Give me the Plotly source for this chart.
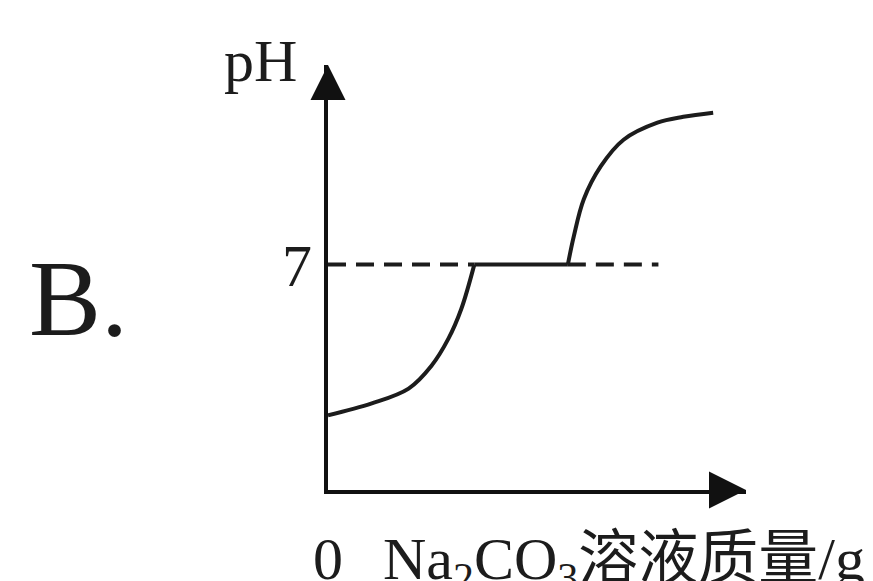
import plotly.graph_objects as go

# pH curve (x in arbitrary mass units, y in pH)
acid_x = [0.0, 4.4, 8.1, 10.4, 12.1, 13.4, 14.7]
acid_ph = [2.32, 2.69, 3.15, 3.86, 4.70, 5.63, 7.0]

flat_x = [14.7, 24.1]
flat_ph = [7.0, 7.0]

base_x = [24.1, 24.7, 25.7, 27.4, 29.7, 33.1, 35.7, 38.7]
base_ph = [7.0, 7.88, 9.03, 10.05, 10.88, 11.41, 11.59, 11.72]

# dashed pH = 7 reference pieces
ref_left_x = [0.0, 14.7]
ref_right_x = [24.1, 33.2]
NEUTRAL = 7.0

X_MAX = 42.0
Y_MAX = 13.2

W, H = 873, 581
PAGE = 8  # default body margin of the html page
# plot box in screen pixels: x 328..746, y 65..490
BOX = (328, 746, 65, 490)
M_L, M_T = BOX[0] - PAGE, BOX[2] - PAGE
M_R, M_B = W - (BOX[1] - PAGE), H - (BOX[3] - PAGE)

SERIF = "Liberation Serif, Times New Roman, Noto Sans CJK SC, serif"
INK = "#1c1c1c"


def px(xp):
    # screen pixel column -> paper fraction
    return (xp - PAGE - M_L) / (W - M_L - M_R)


def py(yp):
    # screen pixel row -> paper fraction
    return (H - M_B - (yp - PAGE)) / (H - M_T - M_B)


fig = go.Figure()

# dashed neutral line
for xs in (ref_left_x, ref_right_x):
    fig.add_trace(go.Scatter(
        x=xs, y=[NEUTRAL] * len(xs), mode="lines",
        line={"color": INK, "width": 4, "dash": "18px,10px"},
        hoverinfo="skip", showlegend=False
    ))

# titration curve
fig.add_trace(go.Scatter(
    x=acid_x, y=acid_ph, mode="lines",
    line={"color": INK, "width": 4, "shape": "spline", "smoothing": 1.0},
    showlegend=False
))
fig.add_trace(go.Scatter(
    x=flat_x, y=flat_ph, mode="lines",
    line={"color": INK, "width": 4},
    showlegend=False
))
fig.add_trace(go.Scatter(
    x=base_x, y=base_ph, mode="lines",
    line={"color": INK, "width": 4, "shape": "spline", "smoothing": 1.0},
    showlegend=False
))

# arrow heads on the axes
fig.add_trace(go.Scatter(
    x=[0], y=[Y_MAX], mode="markers",
    marker={"symbol": "arrow-up", "size": 35, "color": "#111"},
    cliponaxis=False, hoverinfo="skip", showlegend=False
))
fig.add_trace(go.Scatter(
    x=[X_MAX], y=[0], mode="markers",
    marker={"symbol": "arrow-right", "size": 37, "color": "#111"},
    cliponaxis=False, hoverinfo="skip", showlegend=False
))

axis_style = dict(
    showline=True, linewidth=4, linecolor="#111",
    showgrid=False, zeroline=False, showticklabels=False, ticks=""
)
fig.update_xaxes(range=[0, X_MAX], **axis_style)
fig.update_yaxes(range=[0, Y_MAX], **axis_style)

labels = [
    ("B.", 78, 298, 108),
    ("pH", 260, 61, 60),
    ("7", 297, 266, 60),
    ("0", 328, 559, 60),
]
for text, x, y, size in labels:
    fig.add_annotation(
        xref="paper", yref="paper", showarrow=False,
        xanchor="center", yanchor="middle",
        x=px(x), y=py(y), text=text,
        font={"family": SERIF, "color": INK, "size": size}
    )

fig.add_annotation(
    xref="paper", yref="paper", showarrow=False,
    xanchor="left", yanchor="middle",
    x=px(381), y=py(563),
    text="Na<sub>2</sub>CO<sub>3</sub>溶液质量/g",
    font={"family": SERIF, "color": INK, "size": 60}
)

fig.update_layout(
    width=W, height=H,
    margin={"l": M_L, "r": M_R, "t": M_T, "b": M_B},
    paper_bgcolor="white", plot_bgcolor="white",
    showlegend=False
)

fig.write_html("out.html")
